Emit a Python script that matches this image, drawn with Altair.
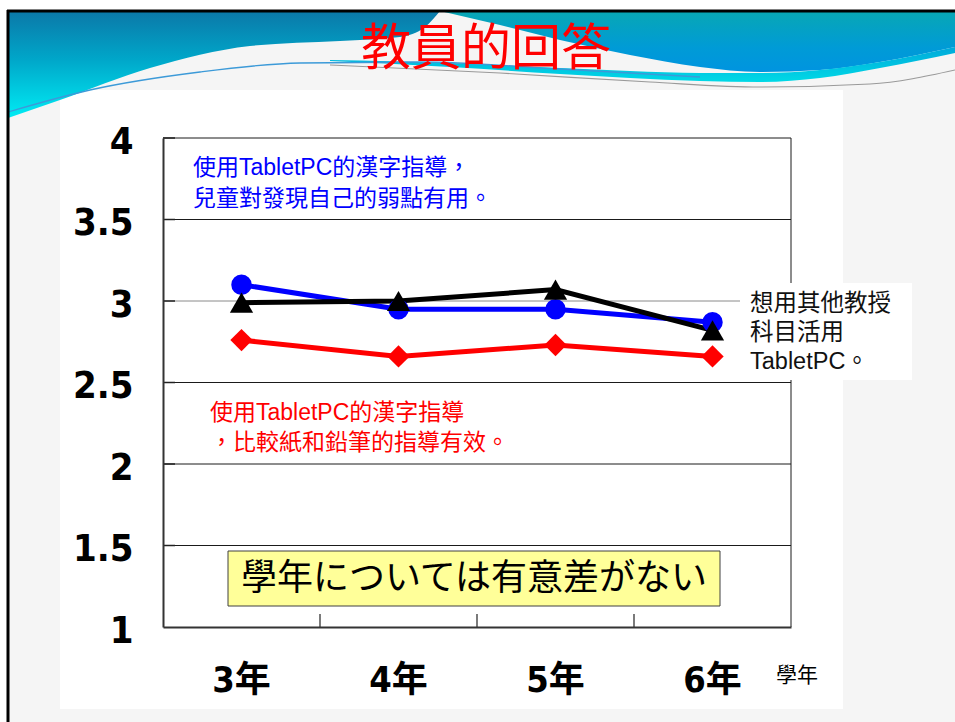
import altair as alt
import pandas as pd

# ---------------- chart values ----------------
GRADES = ["3年", "4年", "5年", "6年"]
RED_SCORES = [2.76, 2.66, 2.73, 2.66]     # 比較紙和鉛筆的指導有效
BLUE_SCORES = [3.10, 2.95, 2.95, 2.87]    # 兒童對發現自己的弱點有用
BLACK_SCORES = [2.99, 3.00, 3.07, 2.82]   # 想用其他教授科目活用
Y_TICKS = [1, 1.5, 2, 2.5, 3, 3.5, 4]

TITLE = "教員的回答"
X_TITLE = "學年"
BLUE_NOTE = ["使用TabletPC的漢字指導，", "兒童對發現自己的弱點有用。"]
RED_NOTE = ["使用TabletPC的漢字指導", "，比較紙和鉛筆的指導有效。"]
BLACK_NOTE = ["想用其他教授", "科目活用", "TabletPC。"]
BOX_NOTE = "學年については有意差がない"

# ---------------- slide header artwork (page pixels) ----------------
LEFT_WAVE_X = [8, 60, 150, 250, 340, 400, 425, 440]
LEFT_WAVE_BOTTOM = [118, 100, 68, 46, 41, 37, 27, 11]
RIGHT_WAVE_X = [440, 500, 560, 630, 700, 760, 820, 880, 955]
RIGHT_WAVE_BOTTOM = [11, 25, 40, 55, 67, 72, 70, 62, 47]
BAND_X = [330, 450, 560, 630, 700, 760, 820, 880, 955]
BAND_TOP = [60, 63, 68, 71, 73, 73, 70, 62, 47]
BAND_BOTTOM = [61, 67, 74, 78, 81, 82, 78, 68, 53]
THREAD_X = [8, 90, 200, 300, 420, 560, 700]
THREAD_Y = [112, 90, 72, 63, 62, 69, 77]
GREY_THREAD_X = [330, 500, 650, 760, 870, 955]
GREY_THREAD_Y = [65, 73, 82, 87, 84, 70]

# ---------------- geometry ----------------
PAGE_W, PAGE_H = 955, 722
LEFT, TOP = 163, 138
W, H = 628, 489

SANS_BOLD = "'Liberation Sans Narrow', 'DejaVu Sans Condensed', 'Noto Sans CJK JP', sans-serif"
NOTE_FONT = "'Liberation Sans', 'Noto Sans CJK TC', 'Noto Sans CJK JP', sans-serif"
CJK = "'Noto Sans CJK TC', 'Noto Sans CJK JP', sans-serif"
CJK_JP = "'Noto Sans CJK JP', 'Noto Sans CJK TC', sans-serif"


def px(v):
    return v - LEFT


def py(v):
    return v - TOP


# pixel scales for the header artwork
PX = alt.Scale(domain=[0, PAGE_W], range=[-LEFT, PAGE_W - LEFT], zero=False, nice=False)
PY = alt.Scale(domain=[0, PAGE_H], range=[-TOP, PAGE_H - TOP], zero=False, nice=False)

# ---------------- background slide ----------------
slide_bg = alt.Chart().mark_rect(color="#f5f5f5").encode(
    x=alt.value(px(8)), x2=alt.value(px(PAGE_W)), y=alt.value(py(11)), y2=alt.value(py(PAGE_H))
)
panel = alt.Chart().mark_rect(color="#ffffff").encode(
    x=alt.value(px(60)), x2=alt.value(px(843)), y=alt.value(py(90)), y2=alt.value(py(709))
)


def grad(stops):
    return alt.Gradient(
        gradient="linear",
        stops=[alt.GradientStop(color=c, offset=o) for o, c in stops],
        x1=0, x2=0, y1=0, y2=1,
    )


left_df = pd.DataFrame({"gx": LEFT_WAVE_X, "top": [11] * len(LEFT_WAVE_X), "bottom": LEFT_WAVE_BOTTOM})
right_df = pd.DataFrame({"gx": RIGHT_WAVE_X, "top": [11] * len(RIGHT_WAVE_X), "bottom": RIGHT_WAVE_BOTTOM})
band_df = pd.DataFrame({"gx": BAND_X, "top": BAND_TOP, "bottom": BAND_BOTTOM})


def wave(df, fill):
    return alt.Chart(df).mark_area(color=fill, interpolate="monotone").encode(
        x=alt.X("gx:Q", scale=PX, axis=None),
        y=alt.Y("top:Q", scale=PY, axis=None),
        y2="bottom:Q",
    )


left_wave = wave(left_df, grad([(0, "#0b78a8"), (0.45, "#00a6c9"), (1, "#00ecf4")]))
right_wave = wave(right_df, grad([(0, "#08a7b4"), (0.6, "#009bd6"), (1, "#0094e0")]))
band = wave(band_df, grad([(0, "#00a9da"), (1, "#00d9e6")]))

thread = alt.Chart(pd.DataFrame({"gx": THREAD_X, "gy": THREAD_Y})).mark_line(
    color="#3c9ad8", strokeWidth=1.3, interpolate="monotone"
).encode(x=alt.X("gx:Q", scale=PX, axis=None), y=alt.Y("gy:Q", scale=PY, axis=None))
grey_thread = alt.Chart(pd.DataFrame({"gx": GREY_THREAD_X, "gy": GREY_THREAD_Y})).mark_line(
    color="#9a9a9a", strokeWidth=1.2, interpolate="monotone"
).encode(x=alt.X("gx:Q", scale=PX, axis=None), y=alt.Y("gy:Q", scale=PY, axis=None))

frame_top = alt.Chart().mark_rule(color="#000000", strokeWidth=3).encode(
    x=alt.value(px(7)), x2=alt.value(px(PAGE_W)), y=alt.value(py(11))
)
frame_left = alt.Chart().mark_rule(color="#000000", strokeWidth=3).encode(
    x=alt.value(px(8)), y=alt.value(py(10)), y2=alt.value(py(PAGE_H))
)

title = alt.Chart().mark_text(
    text=TITLE, font=CJK, fontSize=50, color="#ff0000", align="center", baseline="middle"
).encode(x=alt.value(px(486)), y=alt.value(py(50)))

decor = alt.layer(slide_bg, panel, left_wave, right_wave, band, thread, grey_thread,
                  frame_top, frame_left, title)

# ---------------- plot ----------------
long_df = pd.DataFrame({
    "grade": GRADES * 3,
    "series": ["red"] * 4 + ["blue"] * 4 + ["black"] * 4,
    "score": RED_SCORES + BLUE_SCORES + BLACK_SCORES,
})

x_scale = alt.Scale(type="band", domain=GRADES, paddingInner=0, paddingOuter=0)
y_scale = alt.Scale(domain=[1, 4], nice=False, zero=False)

x_axis = alt.Axis(
    title=None, labelFont=SANS_BOLD, labelFontSize=36, labelFontWeight="bold",
    labelColor="#000000", labelPadding=36, ticks=False, domainColor="#333333",
    domainWidth=2, grid=False, labelAngle=0, zindex=1,
)
y_axis = alt.Axis(
    title=None, values=Y_TICKS, labelExpr="'' + datum.value", labelFont=SANS_BOLD,
    labelFontSize=38, labelFontWeight="bold", labelColor="#000000", labelPadding=30,
    labelOffset=4, ticks=False, domainColor="#333333", domainWidth=2, grid=False, zindex=1,
)

X = alt.X("grade:N", scale=x_scale, axis=x_axis, bandPosition=0.5)
Y = alt.Y("score:Q", scale=y_scale, axis=y_axis)

grid_df = pd.DataFrame({"score": Y_TICKS[1:]})
gridlines = alt.Chart(grid_df).mark_rule(strokeWidth=1).encode(
    y=Y, x=alt.value(0), x2=alt.value(W),
    color=alt.condition("datum.score == 3", alt.value("#8a8a8a"), alt.value("#1a1a1a")),
)
y_ticks_in = alt.Chart(grid_df).mark_rule(strokeWidth=1.5, color="#222222").encode(
    y=Y, x=alt.value(0), x2=alt.value(12)
)
x_ticks_in = alt.Chart(pd.DataFrame({"grade": GRADES[1:]})).mark_rule(
    strokeWidth=1.2, color="#222222"
).encode(
    x=alt.X("grade:N", scale=x_scale, axis=x_axis, bandPosition=0),
    y=alt.value(H - 13), y2=alt.value(H),
)
right_border = alt.Chart().mark_rule(color="#1a1a1a", strokeWidth=1).encode(
    x=alt.value(W), y=alt.value(0), y2=alt.value(H)
)

x_title = alt.Chart().mark_text(
    text=X_TITLE, font=CJK_JP, fontSize=21, color="#000000", align="left", baseline="middle"
).encode(x=alt.value(px(776)), y=alt.value(py(676)))

STYLE = {
    "red": ("#ff0000", "diamond", 500),
    "blue": ("#0000ff", "circle", 420),
    "black": ("#000000", "triangle-up", 540),
}

lines, points = [], []
for key in ["red", "blue", "black"]:
    color, shape, size = STYLE[key]
    base = alt.Chart(long_df).transform_filter(alt.datum.series == key)
    lines.append(base.mark_line(color=color, strokeWidth=5).encode(x=X, y=Y))
    points.append(
        base.mark_point(color=color, shape=shape, size=size, filled=True, opacity=1).encode(x=X, y=Y)
    )


# annotations
def note(lines_, x, y0, step, color, size, font=NOTE_FONT, align="left"):
    return [
        alt.Chart().mark_text(
            text=t, font=font, fontSize=size, color=color, align=align, baseline="middle"
        ).encode(x=alt.value(px(x)), y=alt.value(py(y0 + i * step)))
        for i, t in enumerate(lines_)
    ]


blue_note = note(BLUE_NOTE, 193, 168, 31, "#0000ff", 23)
red_note = note(RED_NOTE, 210, 413, 30, "#ff0000", 23)

black_box = alt.Chart().mark_rect(color="#ffffff").encode(
    x=alt.value(px(740)), x2=alt.value(px(912)), y=alt.value(py(283)), y2=alt.value(py(380))
)
black_note = note(BLACK_NOTE, 750, 304, 29, "#111111", 23.5)

yellow_box = alt.Chart().mark_rect(fill="#ffff99", stroke="#404040", strokeWidth=1).encode(
    x=alt.value(px(228)), x2=alt.value(px(720)), y=alt.value(py(551)), y2=alt.value(py(606))
)
box_text = alt.Chart().mark_text(
    text=BOX_NOTE, font=CJK_JP, fontSize=36, color="#000000", align="center", baseline="middle"
).encode(x=alt.value(px(474)), y=alt.value(py(579)))

plot = alt.layer(
    gridlines, y_ticks_in, x_ticks_in, right_border,
    *blue_note, *red_note, yellow_box, box_text, x_title,
    *lines, *points, black_box, *black_note,
)

chart = (
    alt.layer(decor, plot)
    .resolve_scale(x="independent", y="independent")
    .properties(
        width=W, height=H,
        padding={"left": LEFT, "top": TOP, "right": PAGE_W - LEFT - W, "bottom": PAGE_H - TOP - H},
        autosize=alt.AutoSizeParams(type="none"),
        background="#ffffff",
    )
    .configure_view(stroke=None)
)

chart.save("out.html", embed_options={"renderer": "svg", "actions": False})
